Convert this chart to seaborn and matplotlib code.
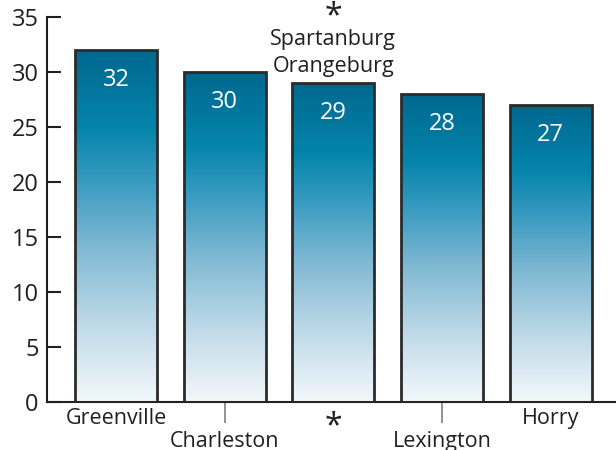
import numpy as np
import pandas as pd
import matplotlib
matplotlib.use("Agg")
import matplotlib.pyplot as plt
import seaborn as sns
from matplotlib.colors import LinearSegmentedColormap

counties = ["Greenville", "Charleston", "*", "Lexington", "Horry"]
values = [32, 30, 29, 28, 27]
y_ticks = [0, 5, 10, 15, 20, 25, 30, 35]
tied_note = ["Spartanburg", "Orangeburg"]

FONT = "Open Sans"
DARK = "#231f20"


def gradient_bars(ax, cmap):
    """Fill every bar with its own top-to-bottom gradient."""
    grad = np.linspace(0, 1, 256).reshape(-1, 1)
    for patch in ax.patches:
        x0, y0 = patch.get_x(), patch.get_y()
        w, h = patch.get_width(), patch.get_height()
        im = ax.imshow(grad, cmap=cmap, aspect="auto", origin="lower",
                       extent=[x0, x0 + w, y0, y0 + h], zorder=2)
        im.set_clip_path(patch)
        patch.set_facecolor("none")
        patch.set_zorder(3)


def main():
    sns.set_theme(style="white")
    plt.rcParams["font.family"] = [FONT, "DejaVu Sans"]

    df = pd.DataFrame({"county": counties, "value": values})

    fig = plt.figure(figsize=(6.16, 4.5), dpi=100)
    ax = fig.add_axes([47 / 616, 48 / 450, 569 / 616, 385 / 450])

    sns.barplot(data=df, x="county", y="value", ax=ax, width=0.754,
                color="white", edgecolor="#2b2b2b", linewidth=2.0)

    cmap = LinearSegmentedColormap.from_list(
        "teal", [(0.0, "#f3f8fb"), (0.2, "#c4ddea"), (0.45, "#7db7d2"),
                 (0.62, "#3b9cc1"), (0.78, "#0584ab"), (1.0, "#00688f")])
    gradient_bars(ax, cmap)

    for i, v in enumerate(values):
        ax.text(i, v - 2.75, str(v), ha="center", va="center",
                color="white", fontsize=17, zorder=4)

    # note above the tied bar
    ax.text(2, 35.0, "*", ha="center", va="center", fontsize=23,
            color=DARK, clip_on=False)
    ax.text(2, 33.0, tied_note[0], ha="center", va="center", fontsize=15.5,
            color=DARK)
    ax.text(2, 30.5, tied_note[1], ha="center", va="center", fontsize=15.5,
            color=DARK)

    ax.set_xlim(-0.634, 4.6)
    ax.set_ylim(0, 35)
    ax.set_yticks(y_ticks)
    ax.set_xlabel("")
    ax.set_ylabel("")

    # staggered category labels: major ticks low row, minor ticks with grey lines
    ax.set_xticks([0, 2, 4])
    ax.set_xticklabels([counties[0], counties[2], counties[4]])
    ax.set_xticks([1, 3], minor=True)
    ax.set_xticklabels([counties[1], counties[3]], minor=True)
    ax.tick_params(axis="x", which="major", length=0, pad=4,
                   labelsize=15.5, labelcolor=DARK)
    ax.tick_params(axis="x", which="minor", bottom=True, direction="out",
                   length=15, width=1.3, color="#8a8a8a", pad=6,
                   labelsize=15.5, labelcolor=DARK)
    ax.get_xticklabels()[1].set_fontsize(23)
    ax.xaxis.get_major_ticks()[1].set_pad(6)

    ax.tick_params(axis="y", left=True, direction="in", length=10,
                   width=1.5, color=DARK, pad=6, labelsize=17,
                   labelcolor=DARK)

    for side in ["top", "right"]:
        ax.spines[side].set_visible(False)
    for side in ["left", "bottom"]:
        ax.spines[side].set_color(DARK)
        ax.spines[side].set_linewidth(1.5)

    fig.savefig("out.png", dpi=100)


if __name__ == "__main__":
    main()
